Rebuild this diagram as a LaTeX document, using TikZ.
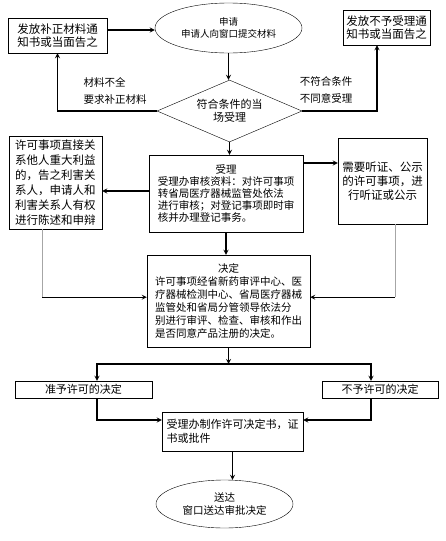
\documentclass[tikz,border=0pt]{standalone}
\usepackage{fontspec}
\setmainfont{Noto Sans CJK SC}
\usetikzlibrary{shapes.geometric, positioning, arrows.meta, calc}
\tikzset{
  startstop/.style={ellipse, draw=black, thin, align=center, inner sep=0pt},
  process/.style={rectangle, draw=black, thin, inner sep=3pt},
  decision/.style={diamond, aspect=2.3, draw=black, thin, align=center, inner sep=0pt},
  arrow/.style={line width=1.2pt,->,>=stealth},
  guide/.style={gray!70, line width=0.8pt}
}

\begin{document}
\begin{tikzpicture}[
    x=1pt, y=-1pt,
    every node/.style={font=\fontsize{11}{13}\selectfont}
]
    \useasboundingbox (0,0) rectangle (445,541);

    \node (shenqing) [startstop, minimum width=147pt, minimum height=50pt, font=\fontsize{9.5}{12}\selectfont] at (228.5,28) {申请\\申请人向窗口提交材料};
    \node (buzheng) [process, minimum width=99pt, minimum height=35pt, align=left, font=\fontsize{11.5}{13.5}\selectfont] at (57.5,35.5) {发放补正材料通\\知书或当面告之};
    \node (buyu) [process, minimum width=87pt, minimum height=35pt, align=left, font=\fontsize{11.5}{13.5}\selectfont] at (386.5,27.5) {发放不予受理通\\知书或当面告之};
    \node (fuhe) [decision, minimum width=145pt, minimum height=62pt] at (229.5,111) {符合条件的当\\场受理};
    \node (buquan) [align=left, font=\fontsize{10.5}{16.5}\selectfont] at (115,91) {材料不全\\要求补正材料};
    \node (bufuhe) [align=left, font=\fontsize{10.5}{16.5}\selectfont] at (326,90) {不符合条件\\不同意受理};
    \node (shouli) [process, minimum width=154pt, minimum height=77pt, align=left, font=\fontsize{10.5}{12}\selectfont] at (226,193.5) {\makebox[136.5pt]{受理}\\受理办审核资料：对许可事项\\转省局医疗器械监管处依法\\进行审核；对登记事项即时审\\核并办理登记事务。};
    \node (gaozhi) [process, minimum width=93pt, minimum height=93pt, align=left, font=\fontsize{11.5}{15}\selectfont] at (55.5,182.5) {许可事项直接关\\系他人重大利益\\的，告之利害关\\系人，申请人和\\利害关系人有权\\进行陈述和申辩};
    \node (tingzheng) [process, minimum width=89pt, minimum height=86pt, align=center, font=\fontsize{11.5}{14}\selectfont] at (382.5,181) {需要听证、公示\\的许可事项，进\\行听证或公示};
    \node (jueding) [process, minimum width=163pt, minimum height=92pt, align=left, font=\fontsize{10.5}{13}\selectfont] at (228.5,301) {\makebox[147pt]{决定}\\许可事项经省新药审评中心、医\\疗器械检测中心、省局医疗器械\\监管处和省局分管领导依法分\\别进行审评、检查、审核和作出\\是否同意产品注册的决定。};
    \node (zhunyu) [process, minimum width=137pt, minimum height=17pt, inner sep=1pt] at (83.5,389.5) {准予许可的决定};
    \node (buyuxuke) [process, minimum width=116pt, minimum height=17pt, inner sep=1pt] at (380,389.5) {不予许可的决定};
    \node (zhizuo) [process, minimum width=141pt, minimum height=39pt, align=left, font=\fontsize{11}{13.5}\selectfont] at (232.5,431.5) {受理办制作许可决定书，证\\书或批件};
    \node (songda) [startstop, minimum width=137pt, minimum height=48pt, font=\fontsize{10.5}{13}\selectfont] at (224.5,504) {送达\\窗口送达审批决定};
    \coordinate (fork) at (228.5,364);

    \draw [arrow] ([yshift=5.5pt]buzheng.east) -- ([yshift=5.5pt]buzheng.east -| shenqing.west);
    \draw [arrow] (shenqing.south) -- (shenqing.south |- fuhe.north);
    \draw [arrow] (fuhe.west) -| (buzheng.south);
    \draw [arrow] (fuhe.east) -| ([xshift=-9.5pt]buyu.south);
    \draw [arrow] (fuhe.south) -- (fuhe.south |- shouli.north);
    \draw [arrow] ([yshift=2.5pt]shouli.west) -- ([yshift=2.5pt]shouli.west -| gaozhi.east);
    \draw [arrow] ([yshift=30.5pt]shouli.east) -- ([yshift=30.5pt]shouli.east -| tingzheng.west);
    \draw [arrow] (shouli.south) -- (shouli.south |- jueding.north);
    \draw [guide] ([xshift=-13.5pt]gaozhi.south) -- ++(0,68) coordinate (lbend);
    \draw [arrow] (lbend) -- (lbend -| jueding.west);
    \draw [guide] ([xshift=12.5pt]tingzheng.south) -- ++(0,73) coordinate (rbend);
    \draw [arrow] (rbend) -- (rbend -| jueding.east);
    \draw [arrow] (jueding.south) -- (fork);
    \draw [arrow] (fork) -| ([xshift=13.5pt]zhunyu.north);
    \draw [arrow] (fork) -| ([xshift=-9pt]buyuxuke.north);
    \draw [arrow] ([xshift=13.5pt]zhunyu.south) |- ([yshift=11.5pt]zhizuo.west);
    \draw [arrow] ([xshift=-9pt]buyuxuke.south) |- ([yshift=11.5pt]zhizuo.east);
    \draw [arrow] (zhizuo.south) -- (zhizuo.south |- songda.north);
\end{tikzpicture}
\end{document}
